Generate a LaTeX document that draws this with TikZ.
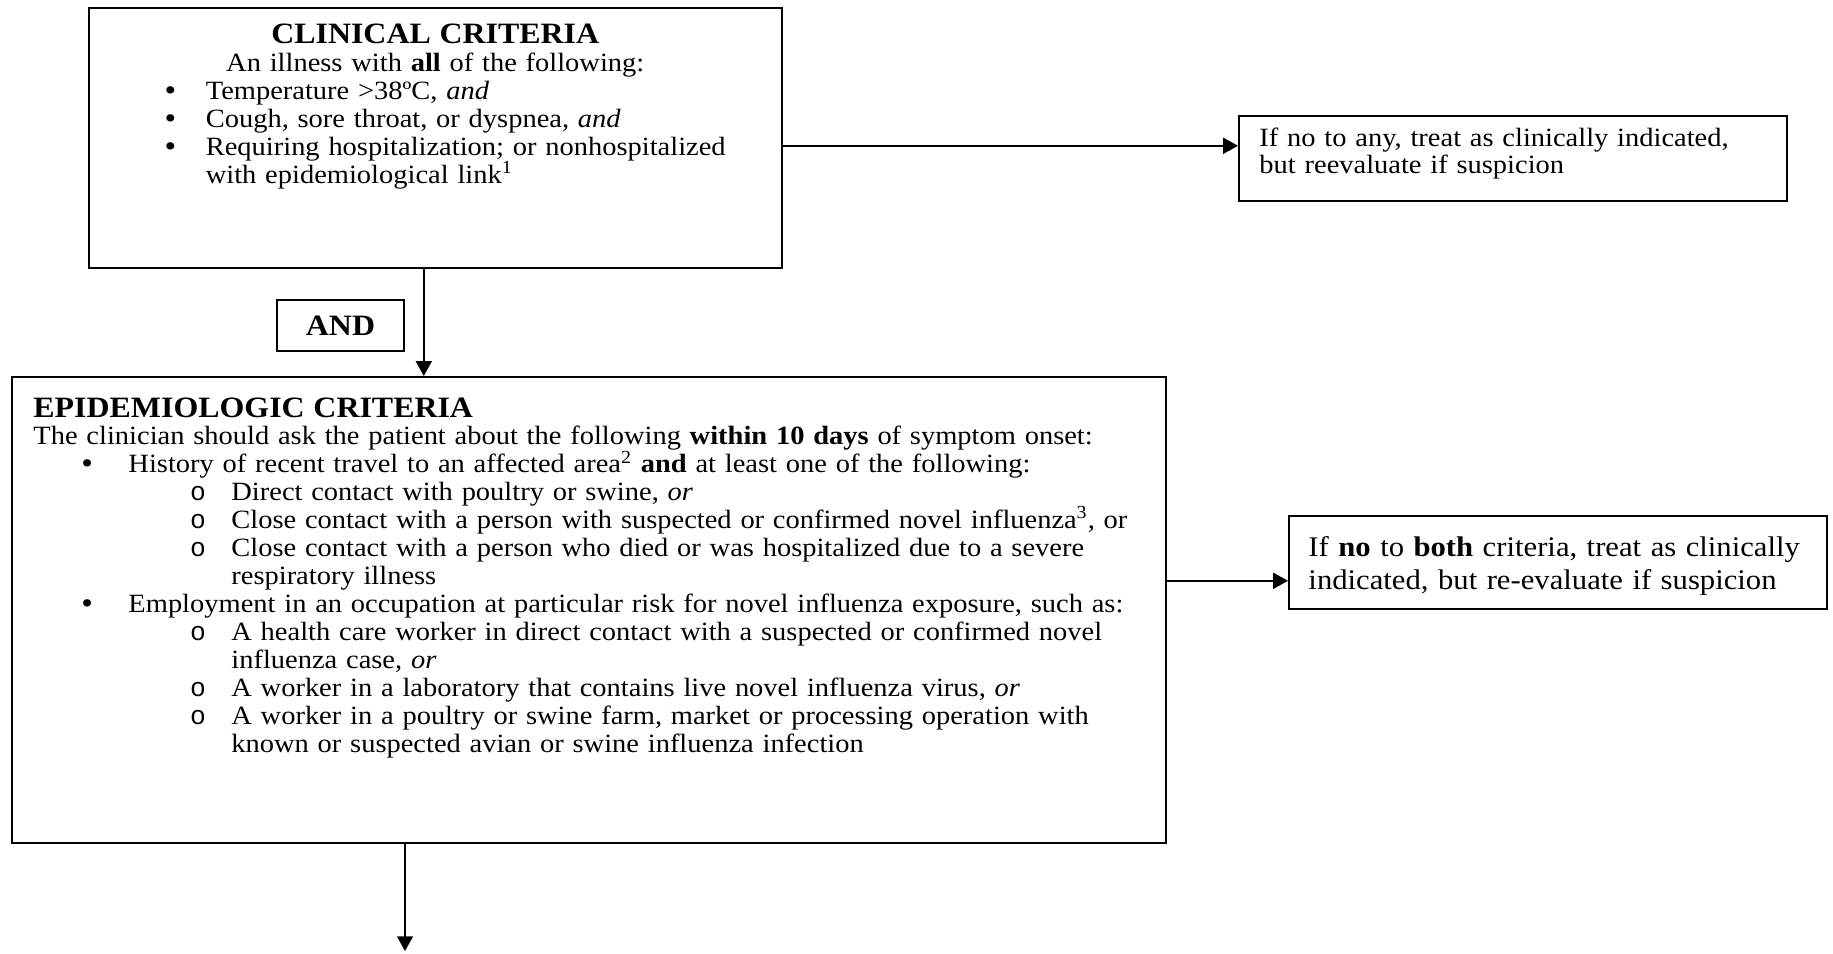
\documentclass[tikz,border=0pt]{standalone}
\usepackage{fontspec}
\setmainfont{Liberation Serif}[FakeStretch=1.08]
\newfontfamily\oglyph{Liberation Mono}
\usetikzlibrary{arrows.meta,positioning}

% one pixel of the layout
\newcommand{\px}{0.44pt}
% list indents
\newcommand{\bigdot}{\smash{\raisebox{-0.4pt}{\fontsize{13.5}{12}\selectfont\textbullet}}}
\newcommand{\clinbul}{\hspace*{33.4pt}\makebox[18.1pt][l]{\bigdot}}
\newcommand{\clincont}{\hspace*{51.5pt}}
\newcommand{\clinmid}[1]{\makebox[304.9pt][c]{#1}}
\newcommand{\epibul}{\hspace*{21.1pt}\makebox[20.7pt][l]{\bigdot}}
\newcommand{\episub}{\hspace*{68.9pt}\makebox[18.2pt][l]{\oglyph o}}
\newcommand{\epicont}{\hspace*{87.1pt}}

\tikzset{
	box/.style={draw, line width=0.7pt, inner sep=0pt},
	txt/.style={inner sep=0pt, align=left, font=\fontsize{11.6}{12.3}\selectfont},
	head/.style={font=\fontsize{13}{15}\selectfont\bfseries},
	arr/.style={-{Triangle[length=6.5pt,width=7pt]}, line width=0.7pt}
}

\begin{document}
\begin{tikzpicture}[x=\px, y=-\px]
	\useasboundingbox (0,0) rectangle (1833,953);

	% Boxes
	\node[box, anchor=north west, minimum width=693*\px, minimum height=260*\px] (clin) at (88,7) {};
	\node[box, anchor=north west, minimum width=548*\px, minimum height=85*\px] (nope1) at (1238,115) {};
	\node[box, head, minimum width=127*\px, minimum height=51*\px] (and) at (340.5,325.5) {AND};
	\node[box, anchor=north west, minimum width=1154*\px, minimum height=466*\px] (epi) at (11,376) {};
	\node[box, anchor=north west, minimum width=538*\px, minimum height=93*\px] (nope2) at (1288,515) {};

	% Texts
	\node[txt, anchor=north, text width=693*\px] (clintext) at ([shift={(0,16.5)}]clin.north) {%
		\clinmid{\fontsize{13}{15}\selectfont\bfseries CLINICAL CRITERIA}\\
		\clinmid{An illness with \textbf{all} of the following:}\\
		\clinbul Temperature >38ºC, \textit{and}\\
		\clinbul Cough, sore throat, or dyspnea, \textit{and}\\
		\clinbul Requiring hospitalization; or nonhospitalized\\
		\clincont with epidemiological link\textsuperscript{1}};
	\node[txt, anchor=north west, text width=240pt] (nope1text) at ([shift={(21,12)}]nope1.north west) {%
		If no to any, treat as clinically indicated,\\
		but reevaluate if suspicion};
	\node[txt, anchor=north west, text width=520pt] (epitext) at ([shift={(22,21)}]epi.north west) {%
		{\fontsize{13}{15}\selectfont\bfseries EPIDEMIOLOGIC CRITERIA}\\
		The clinician should ask the patient about the following \textbf{within 10 days} of symptom onset:\\
		\epibul History of recent travel to an affected area\textsuperscript{2} \textbf{and} at least one of the following:\\
		\episub Direct contact with poultry or swine, \textit{or}\\
		\episub Close contact with a person with suspected or confirmed novel influenza\textsuperscript{3}, or\\
		\episub Close contact with a person who died or was hospitalized due to a severe\\
		\epicont respiratory illness\\
		\epibul Employment in an occupation at particular risk for novel influenza exposure, such as:\\
		\episub A health care worker in direct contact with a suspected or confirmed novel\\
		\epicont influenza case, \textit{or}\\
		\episub A worker in a laboratory that contains live novel influenza virus, \textit{or}\\
		\episub A worker in a poultry or swine farm, market or processing operation with\\
		\epicont known or suspected avian or swine influenza infection};
	\node[txt, anchor=north west, text width=250pt, font=\fontsize{12.5}{14.5}\selectfont] (nope2text) at ([shift={(20,21)}]nope2.north west) {%
		If \textbf{no} to \textbf{both} criteria, treat as clinically\\
		indicated, but re-evaluate if suspicion};

	% Connectors
	\coordinate (out) at (405,951);
	\draw[arr] ([yshift=-8*\px]clin.east) -- ([yshift=-8*\px]clin.east -| nope1.west);
	\draw[arr] ([xshift=-11.5*\px]clin.south) -- ([xshift=-11.5*\px]clin.south |- epi.north);
	\draw[arr] ([yshift=-18.5*\px]nope2.west -| epi.east) -- ([yshift=-18.5*\px]nope2.west);
	\draw[arr] (out |- epi.south) -- (out);

\end{tikzpicture}
\end{document}
